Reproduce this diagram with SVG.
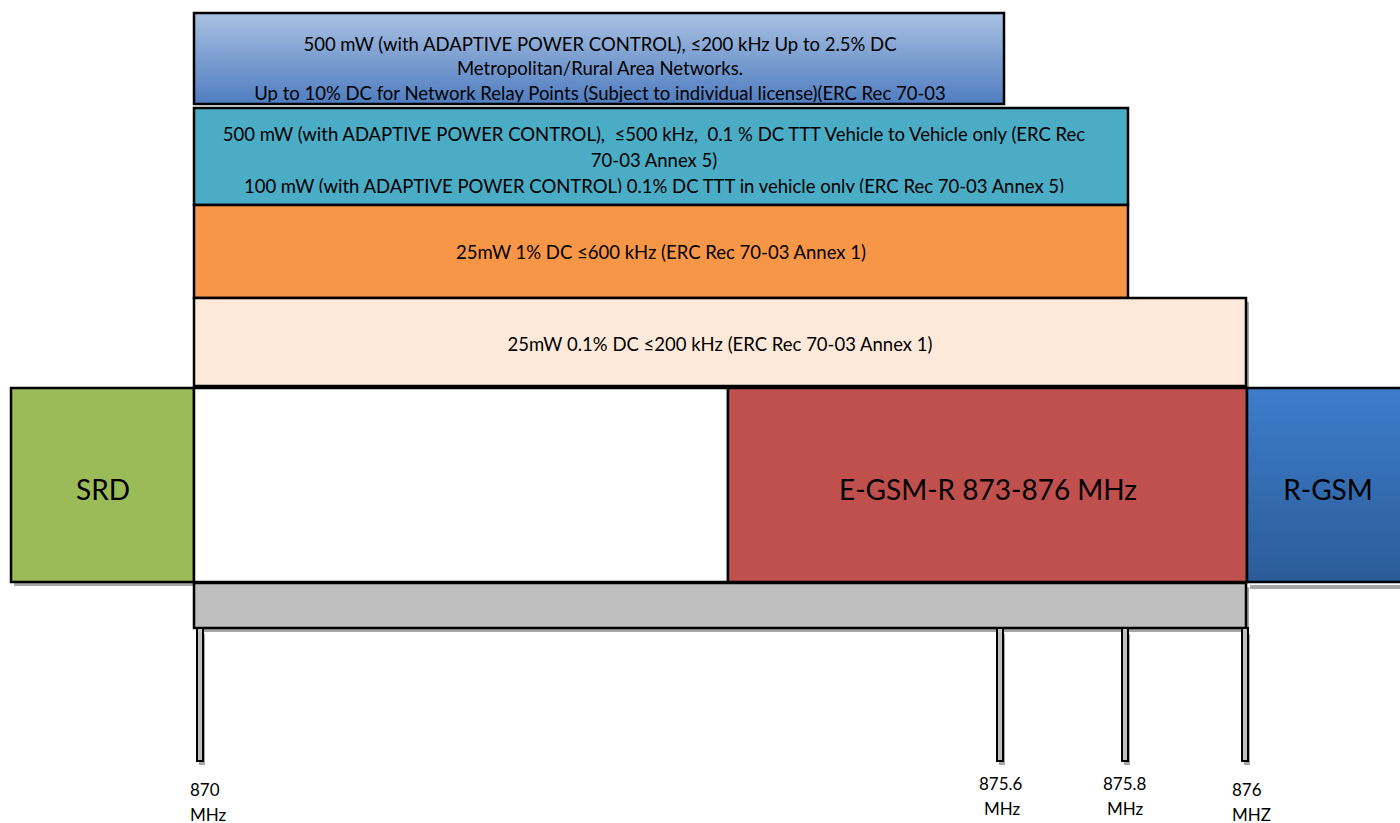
<svg xmlns="http://www.w3.org/2000/svg" width="1400" height="823" viewBox="0 0 1400 823">
<defs>
<linearGradient id="gTop" x1="0" y1="0" x2="0" y2="1"><stop offset="0" stop-color="#a9c1e2"/><stop offset="1" stop-color="#4f7dc0"/></linearGradient>
<linearGradient id="gRgsm" x1="0" y1="0" x2="0" y2="1"><stop offset="0" stop-color="#3d7dcb"/><stop offset="1" stop-color="#2b5c98"/></linearGradient>
<clipPath id="c1"><rect x="194" y="13" width="810" height="89"/></clipPath>
<clipPath id="c2"><rect x="194" y="108" width="934" height="85"/></clipPath>
<style>
.box{stroke:#000;stroke-width:2.5}
.sh{fill:#a6a6a6}
.t{font-family:Lato,"Open Sans","Liberation Sans",sans-serif;font-size:18.5px;fill:#000;text-anchor:middle;white-space:pre}
.big{font-family:Lato,"Open Sans","Liberation Sans",sans-serif;font-size:28px;fill:#000;text-anchor:middle}
.lbl{font-family:Lato,"Open Sans","Liberation Sans",sans-serif;font-size:17px;fill:#000}
.tick{fill:#bfbfbf;stroke:#000;stroke-width:2}
</style>
</defs>
<g id="shadows">
<rect class="sh" x="14" y="392" width="183" height="194"/>
<rect class="sh" x="197" y="302" width="1052" height="88"/>
<rect class="sh" x="197" y="587" width="1052" height="45"/>
<rect class="sh" x="199" y="634" width="6" height="131"/>
<rect class="sh" x="999" y="634" width="6" height="131"/>
<rect class="sh" x="1124" y="634" width="6" height="131"/>
<rect class="sh" x="1244" y="634" width="6" height="131"/>
<rect class="sh" x="1250" y="585" width="150" height="4"/>
</g>
<g id="band1">
<rect class="box" x="194" y="13" width="810" height="91" fill="url(#gTop)"/>
<g clip-path="url(#c1)">
<text class="t" x="600" y="51">500 mW (with ADAPTIVE POWER CONTROL), ≤200 kHz Up to 2.5% DC</text>
<text class="t" x="600" y="75">Metropolitan/Rural Area Networks.</text>
<text class="t" x="600" y="100">Up to 10% DC for Network Relay Points (Subject to individual license)(ERC Rec 70-03</text>
</g>
</g>
<g id="band2">
<rect class="box" x="194" y="108" width="934" height="97" fill="#4bacc6"/>
<g clip-path="url(#c2)">
<text class="t" x="654" y="141" xml:space="preserve">500 mW (with ADAPTIVE POWER CONTROL),  ≤500 kHz,  0.1 % DC TTT Vehicle to Vehicle only (ERC Rec</text>
<text class="t" x="654" y="167">70-03 Annex 5)</text>
<text class="t" x="654" y="193">100 mW (with ADAPTIVE POWER CONTROL) 0.1% DC TTT in vehicle only (ERC Rec 70-03 Annex 5)</text>
</g>
</g>
<g id="band3">
<rect class="box" x="194" y="205" width="934" height="93" fill="#f79646"/>
<text class="t" x="661" y="259">25mW 1% DC ≤600 kHz (ERC Rec 70-03 Annex 1)</text>
</g>
<g id="band4">
<rect class="box" x="194" y="298" width="1052" height="88" fill="#fde9d9"/>
<text class="t" x="720" y="351">25mW 0.1% DC ≤200 kHz (ERC Rec 70-03 Annex 1)</text>
</g>
<g id="srd">
<rect class="box" x="11" y="388" width="183" height="194" fill="#9bbb59"/>
<text class="big" x="103" y="500">SRD</text>
</g>
<g id="free">
<rect class="box" x="194" y="388" width="534" height="194" fill="#ffffff"/>
</g>
<g id="egsmr">
<rect class="box" x="728" y="388" width="519" height="194" fill="#c0504d"/>
<text class="big" x="988" y="500">E-GSM-R 873-876 MHz</text>
</g>
<g id="rgsm">
<rect class="box" x="1247" y="388" width="160" height="194" fill="url(#gRgsm)"/>
<text class="big" x="1328" y="500">R-GSM</text>
</g>
<g id="scale">
<rect class="box" x="194" y="583" width="1052" height="45" fill="#bfbfbf"/>
</g>
<g id="connectors">
<rect class="tick" x="197" y="628" width="6" height="133"/>
<rect class="tick" x="997" y="628" width="6" height="133"/>
<rect class="tick" x="1122" y="628" width="6" height="133"/>
<rect class="tick" x="1242" y="628" width="6" height="133"/>
</g>
<g id="labels">
<text class="lbl" x="190" y="796">870</text>
<text class="lbl" x="190" y="821">MHz</text>
<text class="lbl" x="979" y="790">875.6</text>
<text class="lbl" x="984" y="815">MHz</text>
<text class="lbl" x="1103" y="790">875.8</text>
<text class="lbl" x="1107" y="815">MHz</text>
<text class="lbl" x="1232" y="796">876</text>
<text class="lbl" x="1232" y="821">MHZ</text>
</g>
</svg>
